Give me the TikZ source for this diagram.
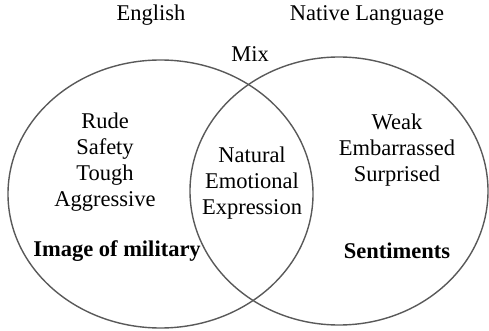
\documentclass[tikz,border=0pt]{standalone}
\usepackage{fontspec}
\setmainfont{Liberation Serif}
\begin{document}
\begin{tikzpicture}[x=1pt,y=-1pt,
  txt/.style={font=\fontsize{22.5}{26}\selectfont, align=center, inner sep=0pt},
  head/.style={txt, font=\fontsize{22.5}{26}\selectfont\bfseries},
  ring/.style={draw=black!65, line width=1.4pt}]
\useasboundingbox (0,0) rectangle (489,331);
% the two sets
\draw[ring] (160.5,194) ellipse [x radius=152.5, y radius=134];
\draw[ring] (339,191) ellipse [x radius=149, y radius=134];
% set names
\node[txt] (english) at (151,15) {English};
\node[txt] (native) at (367,15) {Native Language};
\node[txt] (mix) at (250,54) {Mix};
% contents
\node[txt] (leftwords) at (105,162) {Rude\\Safety\\Tough\\Aggressive};
\node[txt] (midwords) at (252,183) {Natural\\Emotional\\Expression};
\node[txt] (rightwords) at (397,150) {Weak\\Embarrassed\\Surprised};
\node[head] (military) at (117,251) {Image of military};
\node[head] (sentiments) at (397,251) {Sentiments};
\end{tikzpicture}
\end{document}
